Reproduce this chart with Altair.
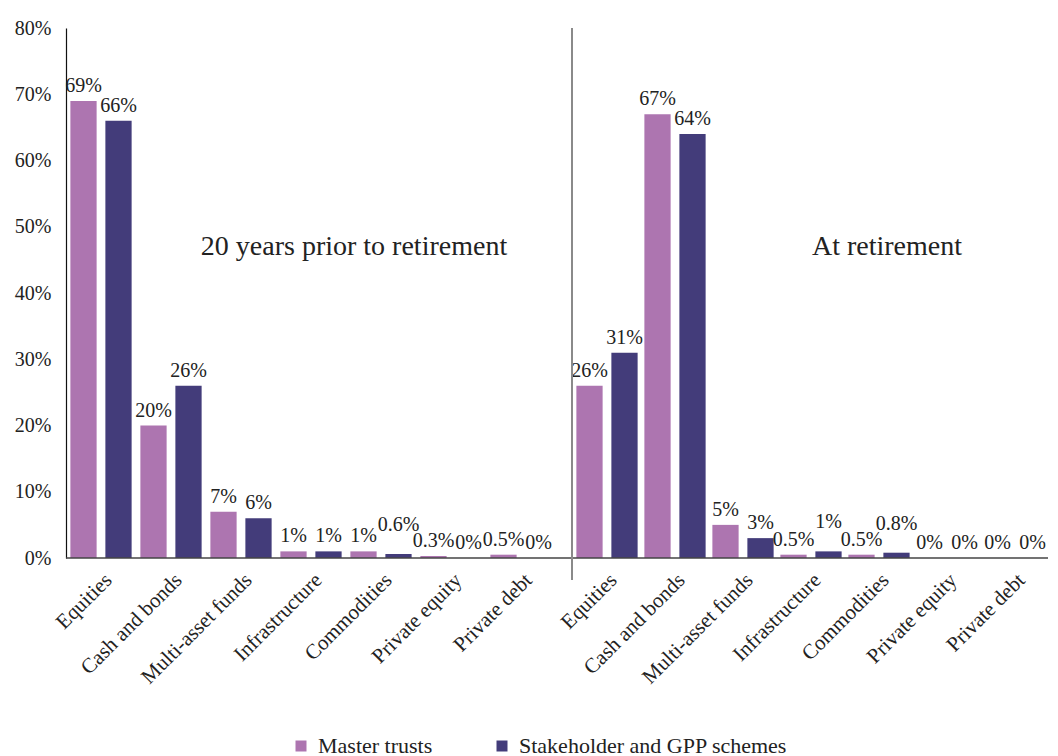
import altair as alt
import pandas as pd

categories = ["Equities", "Cash and bonds", "Multi-asset funds", "Infrastructure",
              "Commodities", "Private equity", "Private debt"]
series_names = ["Master trusts", "Stakeholder and GPP schemes"]
prior_master = [69, 20, 7, 1, 1, 0.3, 0.5]
prior_stake = [66, 26, 6, 1, 0.6, 0, 0]
ret_master = [26, 67, 5, 0.5, 0.5, 0, 0]
ret_stake = [31, 64, 3, 1, 0.8, 0, 0]
y_ticks = [0, 10, 20, 30, 40, 50, 60, 70, 80]
group_titles = ["20 years prior to retirement", "At retirement"]

colors = ["#AD75B0", "#433C7A"]
FONT = "Liberation Serif"
TXT = "#222222"
H = 530


def make_df(master, stake):
    rows = []
    for c, m, s in zip(categories, master, stake):
        rows.append({"cat": c, "series": series_names[0], "v": m,
                     "lab": f"{m:g}%", "up": False})
        # small stakeholder labels that would collide with a different
        # neighbouring label are lifted, as in the original
        rows.append({"cat": c, "series": series_names[1], "v": s,
                     "lab": f"{s:g}%", "up": bool(0 < s < 2 and s != m)})
    return pd.DataFrame(rows)


def panel(df, width, title, title_x, first):
    base = alt.Chart(df)
    x = alt.X("cat:N", sort=categories, title=None,
              scale=alt.Scale(paddingInner=0, paddingOuter=0),
              axis=alt.Axis(labelAngle=-45, labelFontSize=21, labelFont=FONT,
                            labelColor=TXT, ticks=False, domain=False,
                            labelPadding=11, labelLimit=300))
    y_axis = (alt.Axis(values=y_ticks, labelExpr="datum.value + '%'", grid=False,
                       ticks=False, domain=True, domainColor="#111111",
                       domainWidth=1.2, labelFontSize=20, labelFont=FONT,
                       labelColor=TXT, labelPadding=15)
              if first else None)
    y = alt.Y("v:Q", title=None, scale=alt.Scale(domain=[0, 80], nice=False),
              axis=y_axis)
    xo = alt.XOffset("series:N", sort=series_names,
                     scale=alt.Scale(paddingInner=0.25, paddingOuter=0.125))
    color = alt.Color(
        "series:N", sort=series_names,
        scale=alt.Scale(domain=series_names, range=colors),
        legend=(alt.Legend(title=None, orient="none", direction="horizontal",
                           legendX=224, legendY=707, symbolType="square",
                           symbolSize=121, symbolStrokeWidth=0, labelFontSize=22,
                           labelFont=FONT, labelColor=TXT, columnPadding=58,
                           labelOffset=6, labelLimit=400)
                if first else None))
    bars = base.mark_bar().encode(x=x, xOffset=xo, y=y, color=color)
    labels = base.transform_filter("!datum.up").mark_text(
        baseline="bottom", dy=-5, fontSize=20, font=FONT, color=TXT
    ).encode(x=x, xOffset=xo, y=y, text="lab:N")
    labels_up = base.transform_filter("datum.up").mark_text(
        baseline="bottom", dy=-19, fontSize=20, font=FONT, color=TXT
    ).encode(x=x, xOffset=xo, y=y, text="lab:N")
    one = alt.Chart(pd.DataFrame({"t": [title]}))
    ann = one.mark_text(fontSize=28, font=FONT, color=TXT, baseline="middle").encode(
        x=alt.value(title_x), y=alt.value(H - 47 * H / 80), text="t:N")
    axis_line = one.mark_rule(color="#444444", strokeWidth=1.5).encode(
        x=alt.value(0), x2=alt.value(width + (16 if first else 0)), y=alt.value(H))
    layers = [bars, labels, labels_up, ann, axis_line]
    if not first:
        sep = one.mark_rule(color="#8a8a8a", strokeWidth=2).encode(
            x=alt.value(0), y=alt.value(0), y2=alt.value(H + 22))
        layers.append(sep)
    return alt.layer(*layers).properties(width=width, height=H)


left = panel(make_df(prior_master, prior_stake), 490, group_titles[0], 288, True)
right = panel(make_df(ret_master, ret_stake), 476, group_titles[1], 315, False)

chart = alt.hconcat(left, right, spacing=16, bounds="flush").properties(
    padding={"left": 6, "top": 10, "right": 0, "bottom": 0}
).configure(font=FONT).configure_view(strokeWidth=0)

chart.save("out.html", embed_options={"renderer": "svg", "actions": False})
